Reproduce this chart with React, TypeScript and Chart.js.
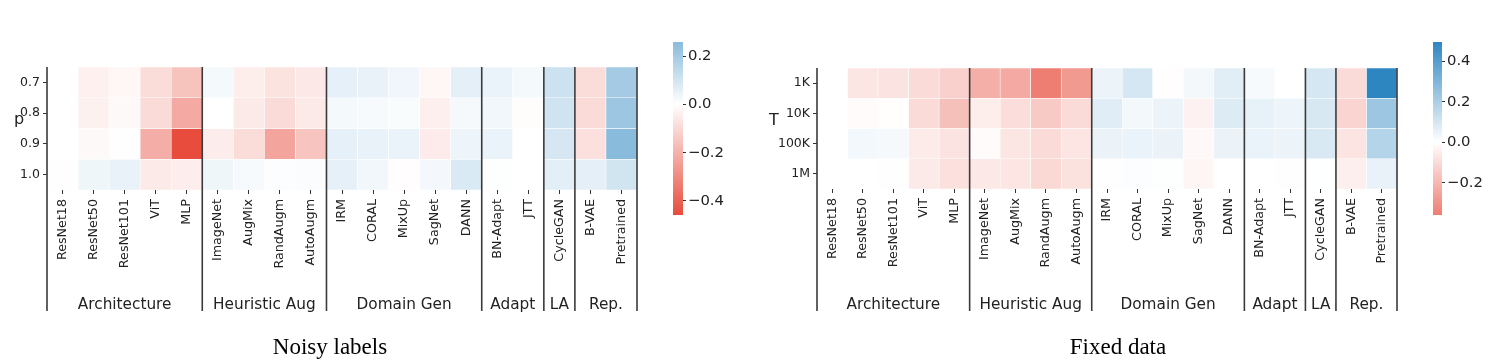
import React, { useEffect, useRef } from "react";
import { Chart, registerables } from "chart.js";

Chart.register(...registerables);

// ---------- data ----------
const methods = [
  "ResNet18", "ResNet50", "ResNet101", "ViT", "MLP",
  "ImageNet", "AugMix", "RandAugm", "AutoAugm",
  "IRM", "CORAL", "MixUp", "SagNet", "DANN",
  "BN-Adapt", "JTT",
  "CycleGAN",
  "B-VAE", "Pretrained",
];
const groupNames = ["Architecture", "Heuristic Aug", "Domain Gen", "Adapt", "LA", "Rep."];
const groupSizes = [5, 4, 5, 2, 1, 2];

const noisyRowLabels = ["0.7", "0.8", "0.9", "1.0"];
const noisyP07 = [0.0, -0.038, -0.02, -0.09, -0.154, 0.024, -0.044, -0.072, -0.056, 0.055, 0.048, 0.033, -0.02, 0.06, 0.046, 0.024, 0.11, -0.09, 0.2];
const noisyP08 = [0.0, -0.035, -0.015, -0.092, -0.218, 0.0, -0.055, -0.092, -0.055, 0.024, 0.02, 0.013, -0.04, 0.022, 0.03, -0.006, 0.105, -0.093, 0.215];
const noisyP09 = [0.0, -0.015, 0.002, -0.207, -0.458, -0.048, -0.09, -0.23, -0.15, 0.055, 0.048, 0.046, -0.05, 0.04, 0.045, 0.0, 0.09, -0.08, 0.258];
const noisyP10 = [-0.003, 0.035, 0.05, -0.055, -0.045, 0.035, 0.02, 0.006, 0.012, 0.055, 0.03, -0.004, 0.025, 0.08, 0.004, 0.0, 0.062, 0.06, 0.1];

const fixedRowLabels = ["1K", "10K", "100K", "1M"];
const fixed1K = [0.0, -0.07, -0.077, -0.1, -0.13, -0.22, -0.235, -0.358, -0.28, 0.045, 0.1, -0.005, 0.028, 0.068, 0.02, 0.0, 0.1, -0.1, 0.494];
const fixed10K = [0.0, -0.012, -0.004, -0.1, -0.175, -0.05, -0.09, -0.145, -0.1, 0.073, 0.028, 0.045, -0.035, 0.08, 0.058, 0.04, 0.095, -0.12, 0.234];
const fixed100K = [0.0, 0.03, 0.024, -0.055, -0.077, -0.01, -0.07, -0.1, -0.072, 0.048, 0.05, 0.048, -0.018, 0.048, 0.05, 0.045, 0.09, -0.075, 0.177];
const fixed1M = [0.0, 0.0, -0.002, -0.058, -0.085, -0.063, -0.072, -0.108, -0.08, 0.003, 0.01, 0.005, -0.025, 0.0, 0.0, 0.003, 0.002, -0.045, 0.055];

const noisyCbarTicks = [-0.4, -0.2, 0.0, 0.2];
const fixedCbarTicks = [-0.2, 0.0, 0.2, 0.4];

// ---------- styling helpers ----------
const NEG = [231, 76, 60];
const POS = [46, 134, 193];
function cmap(t: number): string {
  const a = Math.min(1, Math.abs(t));
  const c = t < 0 ? NEG : POS;
  const r = Math.round(255 + (c[0] - 255) * a);
  const g = Math.round(255 + (c[1] - 255) * a);
  const b = Math.round(255 + (c[2] - 255) * a);
  return `rgb(${r},${g},${b})`;
}
const FONT = "DejaVu Sans";
const TEXT = "#222";
const LINE = "#3a3a3a";

type HeatLayout = {
  left: number; width: number;
  areaLeft: number; areaRight: number; areaTop: number; areaBottom: number;
  lineBottom: number; groupY: number; titleX: number; titleY: number;
};

function Heatmap(props: { rows: string[]; matrix: number[][]; yTitle: string; L: HeatLayout }) {
  const ref = useRef<HTMLCanvasElement | null>(null);
  const { rows, matrix, yTitle, L } = props;
  useEffect(() => {
    if (!ref.current) return;
    const H = 360;
    const vmax = Math.max(...matrix.flat().map((v) => Math.abs(v)));
    const datasets = matrix.map((row, r) => ({
      data: row.map(() => [r, r + 1]),
      backgroundColor: row.map((v) => cmap(v / vmax)),
      borderColor: "#ffffff",
      borderWidth: 0.6,
      borderSkipped: false,
      barPercentage: 1,
      categoryPercentage: 1,
      grouped: false,
    }));
    const bounds = [0];
    groupSizes.forEach((s) => bounds.push(bounds[bounds.length - 1] + s));
    const plugin = {
      id: "groupDecor",
      afterDraw(chart: any) {
        const { ctx, chartArea } = chart;
        const x = chart.scales.x;
        ctx.save();
        ctx.strokeStyle = LINE;
        ctx.lineWidth = 1.6;
        bounds.forEach((b) => {
          const px = x.getPixelForValue(b - 0.5);
          ctx.beginPath();
          ctx.moveTo(px, chartArea.top);
          ctx.lineTo(px, L.lineBottom);
          ctx.stroke();
        });
        ctx.fillStyle = TEXT;
        ctx.font = `15.3px "${FONT}"`;
        ctx.textAlign = "center";
        ctx.textBaseline = "alphabetic";
        groupNames.forEach((g, i) => {
          const a = x.getPixelForValue(bounds[i] - 0.5);
          const b = x.getPixelForValue(bounds[i + 1] - 0.5);
          ctx.fillText(g, (a + b) / 2, L.groupY);
        });
        ctx.font = `16px "${FONT}"`;
        ctx.fillText(yTitle, L.titleX - L.left, L.titleY);
        ctx.restore();
      },
    };
    const chart = new Chart(ref.current, {
      type: "bar",
      data: { labels: methods, datasets: datasets as any },
      options: {
        animation: false,
        responsive: false,
        events: [],
        layout: {
          padding: { left: 0, right: L.width - (L.areaRight - L.left), top: L.areaTop, bottom: 0 },
        },
        plugins: { legend: { display: false }, tooltip: { enabled: false } },
        scales: {
          x: {
            type: "category",
            offset: true,
            grid: { drawOnChartArea: false, offset: false, tickLength: 4, color: "#333", lineWidth: 1 },
            border: { display: false },
            ticks: {
              autoSkip: false, minRotation: 90, maxRotation: 90, padding: 5, color: TEXT,
              font: { family: FONT, size: 12.7 },
            },
            afterFit: (s: any) => { s.height = H - L.areaBottom; },
          },
          y: {
            type: "linear",
            min: 0,
            max: rows.length,
            reverse: true,
            afterBuildTicks: (s: any) => { s.ticks = rows.map((_, i) => ({ value: i + 0.5 })); },
            grid: { drawOnChartArea: false, tickLength: 4, color: "#333", lineWidth: 1 },
            border: { display: false },
            ticks: {
              callback: (_v: any, i: number) => rows[i],
              padding: 3, color: TEXT, font: { family: FONT, size: 12.5 },
            },
            afterFit: (s: any) => { s.width = L.areaLeft - L.left; },
          },
        },
      } as any,
      plugins: [plugin],
    });
    return () => chart.destroy();
  }, []);
  return (
    <canvas
      ref={ref}
      width={L.width}
      height={360}
      style={{ position: "absolute", left: L.left, top: 0, width: L.width, height: 360 }}
    />
  );
}

type BarLayout = { left: number; width: number; areaLeft: number; areaRight: number; areaTop: number; areaBottom: number };

function fmt(v: number): string {
  const s = Math.abs(v).toFixed(1);
  return v < -1e-9 ? "\u2212" + s : s;
}

function ColorBar(props: { matrix: number[][]; ticks: number[]; L: BarLayout }) {
  const ref = useRef<HTMLCanvasElement | null>(null);
  const { matrix, ticks, L } = props;
  useEffect(() => {
    if (!ref.current) return;
    const all = matrix.flat();
    const lo = Math.min(...all);
    const hi = Math.max(...all);
    const vmax = Math.max(Math.abs(lo), Math.abs(hi));
    const chart = new Chart(ref.current, {
      type: "bar",
      data: {
        labels: [""],
        datasets: [{
          data: [[lo, hi]] as any,
          backgroundColor: (c: any) => {
            const ch = c.chart;
            if (!ch.chartArea) return "#fff";
            const y = ch.scales.y;
            const y0 = y.getPixelForValue(lo);
            const y1 = y.getPixelForValue(hi);
            const g = ch.ctx.createLinearGradient(0, y0, 0, y1);
            const n = 60;
            for (let k = 0; k <= n; k++) {
              const v = lo + ((hi - lo) * k) / n;
              g.addColorStop(k / n, cmap(v / vmax));
            }
            g.addColorStop((0 - lo) / (hi - lo), "rgb(255,255,255)");
            return g;
          },
          borderWidth: 0,
          barPercentage: 1,
          categoryPercentage: 1,
        }],
      },
      options: {
        animation: false,
        responsive: false,
        events: [],
        layout: {
          padding: { left: L.areaLeft - L.left, right: 0, top: L.areaTop, bottom: 360 - L.areaBottom },
        },
        plugins: { legend: { display: false }, tooltip: { enabled: false } },
        scales: {
          x: { display: false, offset: true },
          y: {
            position: "right",
            min: lo,
            max: hi,
            afterBuildTicks: (s: any) => { s.ticks = ticks.map((v) => ({ value: v })); },
            grid: { drawOnChartArea: false, tickLength: 3, color: "#333", lineWidth: 1 },
            border: { display: false },
            ticks: {
              callback: (v: any) => fmt(Number(v)),
              padding: 2, color: TEXT, font: { family: FONT, size: 14.8 },
            },
            afterFit: (s: any) => { s.width = L.width - (L.areaRight - L.left); },
          },
        },
      } as any,
    });
    return () => chart.destroy();
  }, []);
  return (
    <canvas
      ref={ref}
      width={L.width}
      height={360}
      style={{ position: "absolute", left: L.left, top: 0, width: L.width, height: 360 }}
    />
  );
}

const noisyMatrix = [noisyP07, noisyP08, noisyP09, noisyP10];
const fixedMatrix = [fixed1K, fixed10K, fixed100K, fixed1M];

const captionStyle: React.CSSProperties = {
  position: "absolute",
  top: 334,
  width: 240,
  textAlign: "center",
  fontFamily: '"Liberation Serif", "Times New Roman", serif',
  fontSize: 23,
  lineHeight: "26px",
  color: "#000",
};

export default function App() {
  return (
    <div style={{ position: "absolute", left: 0, top: 0, width: 1499, height: 360, background: "#fff", overflow: "hidden" }}>
      <Heatmap
        rows={noisyRowLabels}
        matrix={noisyMatrix}
        yTitle="p"
        L={{ left: 0, width: 660, areaLeft: 47, areaRight: 637, areaTop: 67, areaBottom: 190, lineBottom: 311, groupY: 309, titleX: 19, titleY: 124 }}
      />
      <ColorBar
        matrix={noisyMatrix}
        ticks={noisyCbarTicks}
        L={{ left: 660, width: 90, areaLeft: 673, areaRight: 683, areaTop: 42, areaBottom: 215 }}
      />
      <Heatmap
        rows={fixedRowLabels}
        matrix={fixedMatrix}
        yTitle="T"
        L={{ left: 740, width: 680, areaLeft: 817, areaRight: 1397, areaTop: 68, areaBottom: 189, lineBottom: 311, groupY: 309, titleX: 774, titleY: 125 }}
      />
      <ColorBar
        matrix={fixedMatrix}
        ticks={fixedCbarTicks}
        L={{ left: 1420, width: 79, areaLeft: 1433, areaRight: 1442, areaTop: 42, areaBottom: 215 }}
      />
      <div style={{ ...captionStyle, left: 210 }}>Noisy labels</div>
      <div style={{ ...captionStyle, left: 998 }}>Fixed data</div>
    </div>
  );
}
